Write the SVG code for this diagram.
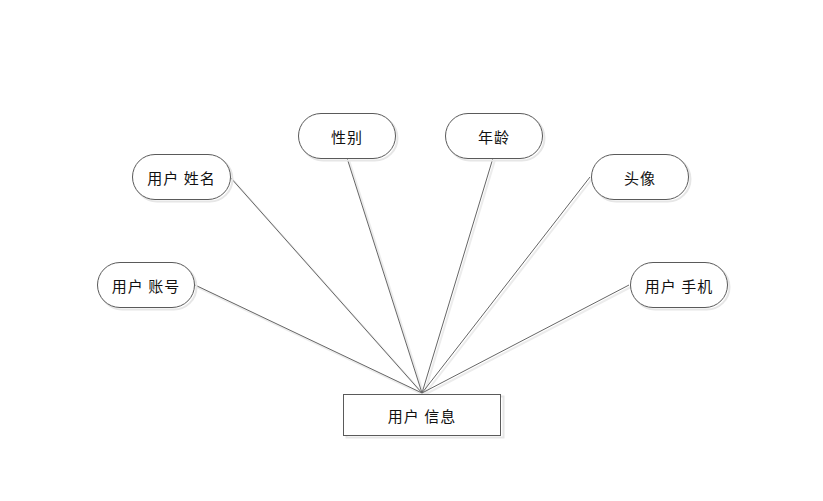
<svg xmlns="http://www.w3.org/2000/svg" width="823" height="501" viewBox="0 0 823 501">
<style>
.n{fill:#fff;stroke:#5a5a5a;stroke-width:1}
.sh{fill:none;stroke:#e6e6e6;stroke-width:2}
.t{font-family:"Noto Sans CJK SC","Noto Sans",sans-serif;font-size:15px;fill:#111;text-anchor:middle;dominant-baseline:central;letter-spacing:1px}
.c{stroke:#666;stroke-width:1;fill:none}
.cs{stroke:#ececec;stroke-width:2;fill:none}
</style>
<rect width="823" height="501" fill="#fff"/>
<g id="connectors">
<g transform="translate(2,2)">
<line class="cs" x1="195" y1="285" x2="422" y2="393"/>
<line class="cs" x1="230" y1="177" x2="422" y2="393"/>
<line class="cs" x1="347" y1="158" x2="422" y2="393"/>
<line class="cs" x1="493" y1="158" x2="422" y2="393"/>
<line class="cs" x1="590" y1="177" x2="422" y2="393"/>
<line class="cs" x1="629" y1="285" x2="422" y2="393"/>
</g>
<line class="c" x1="195" y1="285" x2="422" y2="393"/>
<line class="c" x1="230" y1="177" x2="422" y2="393"/>
<line class="c" x1="347" y1="158" x2="422" y2="393"/>
<line class="c" x1="493" y1="158" x2="422" y2="393"/>
<line class="c" x1="590" y1="177" x2="422" y2="393"/>
<line class="c" x1="629" y1="285" x2="422" y2="393"/>
</g>
<g id="n-name">
<rect class="sh" x="134.5" y="156.5" width="98" height="45" rx="22.5"/>
<rect class="n" x="132.5" y="154.5" width="98" height="45" rx="22.5"/>
<text class="t" x="181.5" y="177">用户 姓名</text>
</g>
<g id="n-sex">
<rect class="sh" x="300.5" y="115.5" width="97" height="45" rx="22.5"/>
<rect class="n" x="298.5" y="113.5" width="97" height="45" rx="22.5"/>
<text class="t" x="347" y="136">性别</text>
</g>
<g id="n-age">
<rect class="sh" x="447.5" y="115.5" width="97" height="45" rx="22.5"/>
<rect class="n" x="445.5" y="113.5" width="97" height="45" rx="22.5"/>
<text class="t" x="494" y="136">年龄</text>
</g>
<g id="n-avatar">
<rect class="sh" x="593.5" y="156.5" width="97" height="45" rx="22.5"/>
<rect class="n" x="591.5" y="154.5" width="97" height="45" rx="22.5"/>
<text class="t" x="640" y="177">头像</text>
</g>
<g id="n-account">
<rect class="sh" x="99.5" y="264.5" width="97" height="45" rx="22.5"/>
<rect class="n" x="97.5" y="262.5" width="97" height="45" rx="22.5"/>
<text class="t" x="146" y="285">用户 账号</text>
</g>
<g id="n-phone">
<rect class="sh" x="632.5" y="264.5" width="97" height="45" rx="22.5"/>
<rect class="n" x="630.5" y="262.5" width="97" height="45" rx="22.5"/>
<text class="t" x="679" y="285">用户 手机</text>
</g>
<g id="n-info">
<rect class="sh" x="346.5" y="396.5" width="157" height="41"/>
<rect class="n" x="343.5" y="394.5" width="157" height="41"/>
<text class="t" x="422" y="415">用户 信息</text>
</g>
</svg>
